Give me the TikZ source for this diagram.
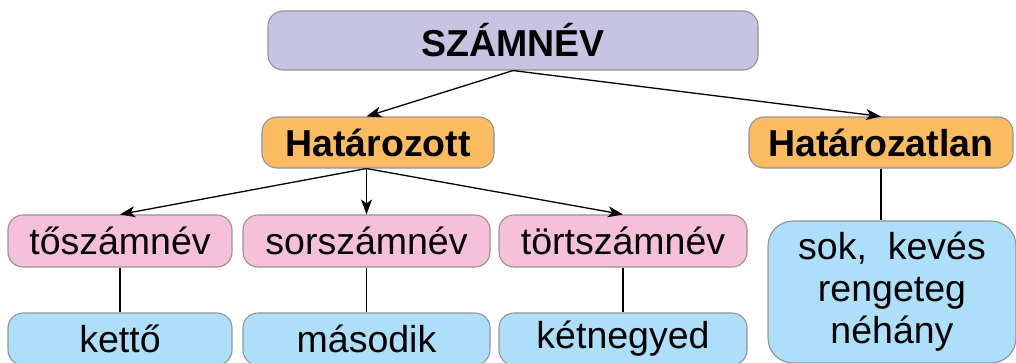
\documentclass[tikz,border=0pt]{standalone}
\usepackage{fontspec}
\setmainfont{Liberation Sans}
\usetikzlibrary{arrows.meta}

\definecolor{lila}{RGB}{199,195,226}
\definecolor{narancs}{RGB}{251,187,96}
\definecolor{rozsa}{RGB}{247,192,217}
\definecolor{kek}{RGB}{173,223,250}

\begin{document}
\begin{tikzpicture}[x=1pt,y=-1pt,
	doboz/.style={draw=gray!85,line width=1.1pt,rounded corners=15pt,align=center,
		font=\fontsize{37.5}{39}\selectfont,inner sep=0pt},
	fo/.style={doboz,font=\fontsize{37.5}{39}\selectfont\bfseries},
	nyil/.style={line width=1.3pt,-{Stealth[length=15pt,width=11pt,inset=4pt]}},
	vonal/.style={line width=1.3pt}]
	\useasboundingbox (0,0) rectangle (1016,362);
	\clip (0,0) rectangle (1016,362);
	
	\node[fo,fill=lila,minimum width=490pt,minimum height=59pt] (szamnev) at (513,40.5) {SZÁMNÉV};
	
	\node[fo,fill=narancs,minimum width=232pt,minimum height=51pt] (hat) at (378,142.5) {Határozott};
	\node[fo,fill=narancs,minimum width=264pt,minimum height=51pt] (hatlan) at (881,142.5) {Határozatlan};
	
	\node[doboz,fill=rozsa,minimum width=224pt,minimum height=52pt] (to) at (120,241) {tőszámnév};
	\node[doboz,fill=rozsa,minimum width=247pt,minimum height=52pt] (sor) at (366.5,241) {sorszámnév};
	\node[doboz,fill=rozsa,minimum width=248pt,minimum height=52pt] (tort) at (623,241) {törtszámnév};
	
	\node[doboz,fill=kek,minimum width=224pt,minimum height=52pt] (ketto) at (120,339) {kettő};
	\node[doboz,fill=kek,minimum width=247pt,minimum height=52pt] (masodik) at (366.5,339) {második};
	\node[doboz,fill=kek,minimum width=248pt,minimum height=52pt] (ketnegyed) at (623,339) {kétnegyed};
	\node[doboz,fill=kek,minimum width=248pt,minimum height=142pt,rounded corners=25pt] (sok) at (892,292) {sok,\ \ kevés\\[3pt]rengeteg\\[3pt]néhány};
	
	\draw[nyil] (szamnev.south) -- (hat.north -| sor.north);
	\draw[nyil] (szamnev.south) -- (hatlan.north);
	\draw[nyil] (hat.south -| sor.north) -- (to.north);
	\draw[nyil] (hat.south -| sor.north) -- (sor.north);
	\draw[nyil] (hat.south -| sor.north) -- (tort.north);
	
	\draw[vonal] (to) -- (ketto);
	\draw[vonal] (sor) -- (masodik);
	\draw[vonal] (tort) -- (ketnegyed);
	\draw[vonal] (hatlan.south) -- (sok.north -| hatlan.south);
\end{tikzpicture}
\end{document}
